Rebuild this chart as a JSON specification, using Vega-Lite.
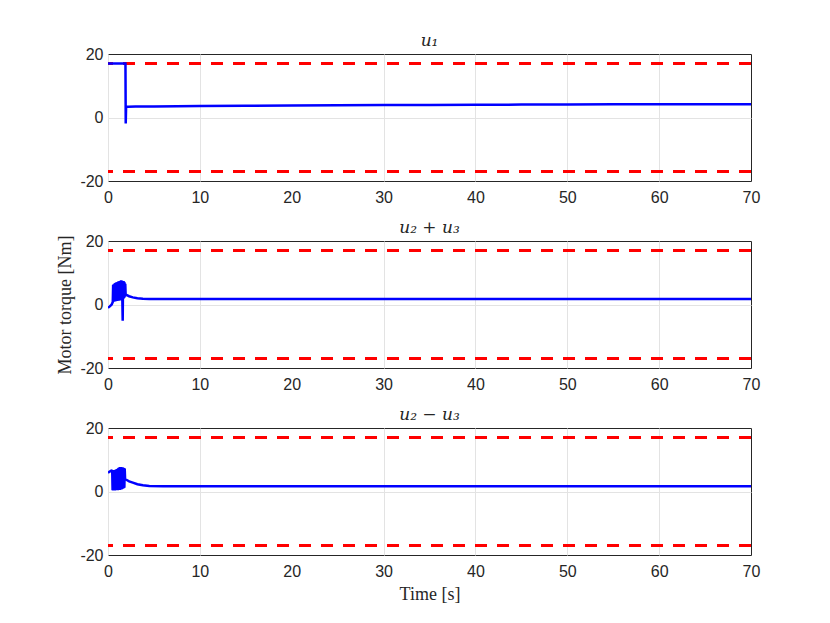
{
  "$schema": "https://vega.github.io/schema/vega-lite/v6.json",
  "background": "white",
  "padding": {"left": 56, "top": 31, "right": 10, "bottom": 10},
  "spacing": 12,
  "config": {
    "view": {"stroke": "#262626", "strokeWidth": 1},
    "axis": {"domain": false, "grid": true, "gridColor": {"condition": {"test": "datum.value === 70 || datum.value === 20 || datum.value === -20", "value": "rgba(0,0,0,0)"}, "value": "#e3e3e3"}, "ticks": false, "tickSize": 0, "labelFont": "Liberation Sans", "labelFontSize": 16, "labelColor": "#262626", "labelExpr": "'' + datum.value", "titleFont": "Liberation Serif", "titleFontWeight": "normal", "titleFontSize": 18, "titleColor": "#262626"},
    "axisX": {"labelPadding": 8, "labelFlush": false},
    "axisY": {"labelPadding": 5},
    "title": {"font": "DejaVu Serif", "fontStyle": "italic", "fontWeight": "normal", "fontSize": 17, "color": "#262626", "offset": -4}
  },
  "datasets": {
    "lims": [{"lim": 17}, {"lim": -17}],
    "u1": [
      {"t": 0, "u": 17.0}, {"t": 1.9, "u": 17.0}, {"t": 1.93, "u": -1.9}, {"t": 1.97, "u": 3.4},
      {"t": 2.2, "u": 3.4}, {"t": 3, "u": 3.45}, {"t": 5, "u": 3.5}, {"t": 10, "u": 3.6},
      {"t": 15, "u": 3.7}, {"t": 20, "u": 3.8}, {"t": 25, "u": 3.86}, {"t": 30, "u": 3.92},
      {"t": 35, "u": 3.97}, {"t": 40, "u": 4.02}, {"t": 45, "u": 4.06}, {"t": 50, "u": 4.1},
      {"t": 55, "u": 4.14}, {"t": 60, "u": 4.17}, {"t": 65, "u": 4.19}, {"t": 70, "u": 4.2}
    ],
    "u2p": [
      {"t": 0, "u": -1.0}, {"t": 0.2, "u": -0.6}, {"t": 0.4, "u": 0.0}, {"t": 0.52, "u": 0.8},
      {"t": 0.56, "u": 6.2}, {"t": 0.60, "u": 1.0}, {"t": 0.64, "u": 6.4}, {"t": 0.68, "u": 0.9},
      {"t": 0.72, "u": 6.6}, {"t": 0.76, "u": 1.1}, {"t": 0.80, "u": 6.8}, {"t": 0.84, "u": 1.0},
      {"t": 0.88, "u": 6.9}, {"t": 0.92, "u": 1.2}, {"t": 0.96, "u": 7.0}, {"t": 1.00, "u": 1.1},
      {"t": 1.04, "u": 7.1}, {"t": 1.08, "u": 1.3}, {"t": 1.12, "u": 7.2}, {"t": 1.16, "u": 1.2},
      {"t": 1.20, "u": 7.3}, {"t": 1.24, "u": 1.4}, {"t": 1.28, "u": 7.4}, {"t": 1.32, "u": 1.3},
      {"t": 1.36, "u": 7.5}, {"t": 1.40, "u": 1.5}, {"t": 1.44, "u": 7.6}, {"t": 1.48, "u": 1.4},
      {"t": 1.52, "u": 7.5}, {"t": 1.56, "u": 1.6}, {"t": 1.60, "u": -5.1}, {"t": 1.64, "u": 7.4},
      {"t": 1.68, "u": 1.8}, {"t": 1.72, "u": 7.3}, {"t": 1.76, "u": 2.0}, {"t": 1.80, "u": 7.0},
      {"t": 1.84, "u": 2.4}, {"t": 1.88, "u": 6.5}, {"t": 1.92, "u": 3.1}, {"t": 2.0, "u": 3.0},
      {"t": 2.3, "u": 2.6}, {"t": 2.7, "u": 2.25}, {"t": 3.2, "u": 1.95}, {"t": 3.8, "u": 1.8},
      {"t": 4.5, "u": 1.7}, {"t": 6, "u": 1.7}, {"t": 70, "u": 1.7}
    ],
    "u2m": [
      {"t": 0, "u": 6.0}, {"t": 0.1, "u": 6.1}, {"t": 0.2, "u": 6.3}, {"t": 0.3, "u": 6.5},
      {"t": 0.4, "u": 6.6}, {"t": 0.46, "u": 6.5}, {"t": 0.5, "u": 0.4}, {"t": 0.54, "u": 6.6},
      {"t": 0.58, "u": 0.3}, {"t": 0.62, "u": 6.7}, {"t": 0.66, "u": 0.4}, {"t": 0.70, "u": 6.8},
      {"t": 0.74, "u": 0.3}, {"t": 0.78, "u": 6.8}, {"t": 0.82, "u": 0.5}, {"t": 0.86, "u": 6.9},
      {"t": 0.90, "u": 0.4}, {"t": 0.94, "u": 7.0}, {"t": 0.98, "u": 0.5}, {"t": 1.02, "u": 7.1},
      {"t": 1.06, "u": 0.4}, {"t": 1.10, "u": 7.3}, {"t": 1.14, "u": 0.5}, {"t": 1.18, "u": 7.5},
      {"t": 1.22, "u": 0.6}, {"t": 1.26, "u": 7.6}, {"t": 1.30, "u": 0.5}, {"t": 1.34, "u": 7.7},
      {"t": 1.38, "u": 0.7}, {"t": 1.42, "u": 7.7}, {"t": 1.46, "u": 0.6}, {"t": 1.50, "u": 7.6},
      {"t": 1.54, "u": 0.8}, {"t": 1.58, "u": 7.6}, {"t": 1.62, "u": 0.9}, {"t": 1.66, "u": 7.5},
      {"t": 1.70, "u": 1.0}, {"t": 1.74, "u": 7.4}, {"t": 1.78, "u": 1.2}, {"t": 1.82, "u": 7.2},
      {"t": 1.86, "u": 3.9}, {"t": 2.0, "u": 3.7}, {"t": 2.3, "u": 3.2}, {"t": 2.7, "u": 2.8},
      {"t": 3.2, "u": 2.3}, {"t": 3.8, "u": 1.95}, {"t": 4.5, "u": 1.75}, {"t": 6, "u": 1.65},
      {"t": 70, "u": 1.65}
    ]
  },
  "vconcat": [
    {
      "width": 643, "height": 127,
      "title": "u₁",
      "layer": [
        {"data": {"name": "lims"}, "mark": {"type": "rule", "color": "#ff0000", "strokeWidth": 3, "strokeDash": [12, 10]},
         "encoding": {"y": {"field": "lim", "type": "quantitative", "scale": {"domain": [-20, 20]}}}},
        {"data": {"name": "u1"}, "mark": {"type": "line", "color": "#0000ff", "strokeWidth": 2.5, "clip": true},
         "encoding": {
           "x": {"field": "t", "type": "quantitative", "scale": {"domain": [0, 70], "nice": false}, "axis": {"values": [0, 10, 20, 30, 40, 50, 60, 70], "title": null}},
           "y": {"field": "u", "type": "quantitative", "scale": {"domain": [-20, 20], "nice": false}, "axis": {"values": [-20, 0, 20], "title": null}}}}
      ]
    },
    {
      "width": 643, "height": 127,
      "title": "u₂ + u₃",
      "layer": [
        {"data": {"name": "lims"}, "mark": {"type": "rule", "color": "#ff0000", "strokeWidth": 3, "strokeDash": [12, 10]},
         "encoding": {"y": {"field": "lim", "type": "quantitative", "scale": {"domain": [-20, 20]}}}},
        {"data": {"name": "u2p"}, "mark": {"type": "line", "color": "#0000ff", "strokeWidth": 2.5, "clip": true},
         "encoding": {
           "x": {"field": "t", "type": "quantitative", "scale": {"domain": [0, 70], "nice": false}, "axis": {"values": [0, 10, 20, 30, 40, 50, 60, 70], "title": null}},
           "y": {"field": "u", "type": "quantitative", "scale": {"domain": [-20, 20], "nice": false}, "axis": {"values": [-20, 0, 20], "title": "Motor torque [Nm]", "titlePadding": 5}}}}
      ]
    },
    {
      "width": 643, "height": 127,
      "title": "u₂ − u₃",
      "layer": [
        {"data": {"name": "lims"}, "mark": {"type": "rule", "color": "#ff0000", "strokeWidth": 3, "strokeDash": [12, 10]},
         "encoding": {"y": {"field": "lim", "type": "quantitative", "scale": {"domain": [-20, 20]}}}},
        {"data": {"name": "u2m"}, "mark": {"type": "line", "color": "#0000ff", "strokeWidth": 2.5, "clip": true},
         "encoding": {
           "x": {"field": "t", "type": "quantitative", "scale": {"domain": [0, 70], "nice": false}, "axis": {"values": [0, 10, 20, 30, 40, 50, 60, 70], "title": "Time [s]", "titlePadding": 6}},
           "y": {"field": "u", "type": "quantitative", "scale": {"domain": [-20, 20], "nice": false}, "axis": {"values": [-20, 0, 20], "title": null}}}}
      ]
    }
  ]
}
